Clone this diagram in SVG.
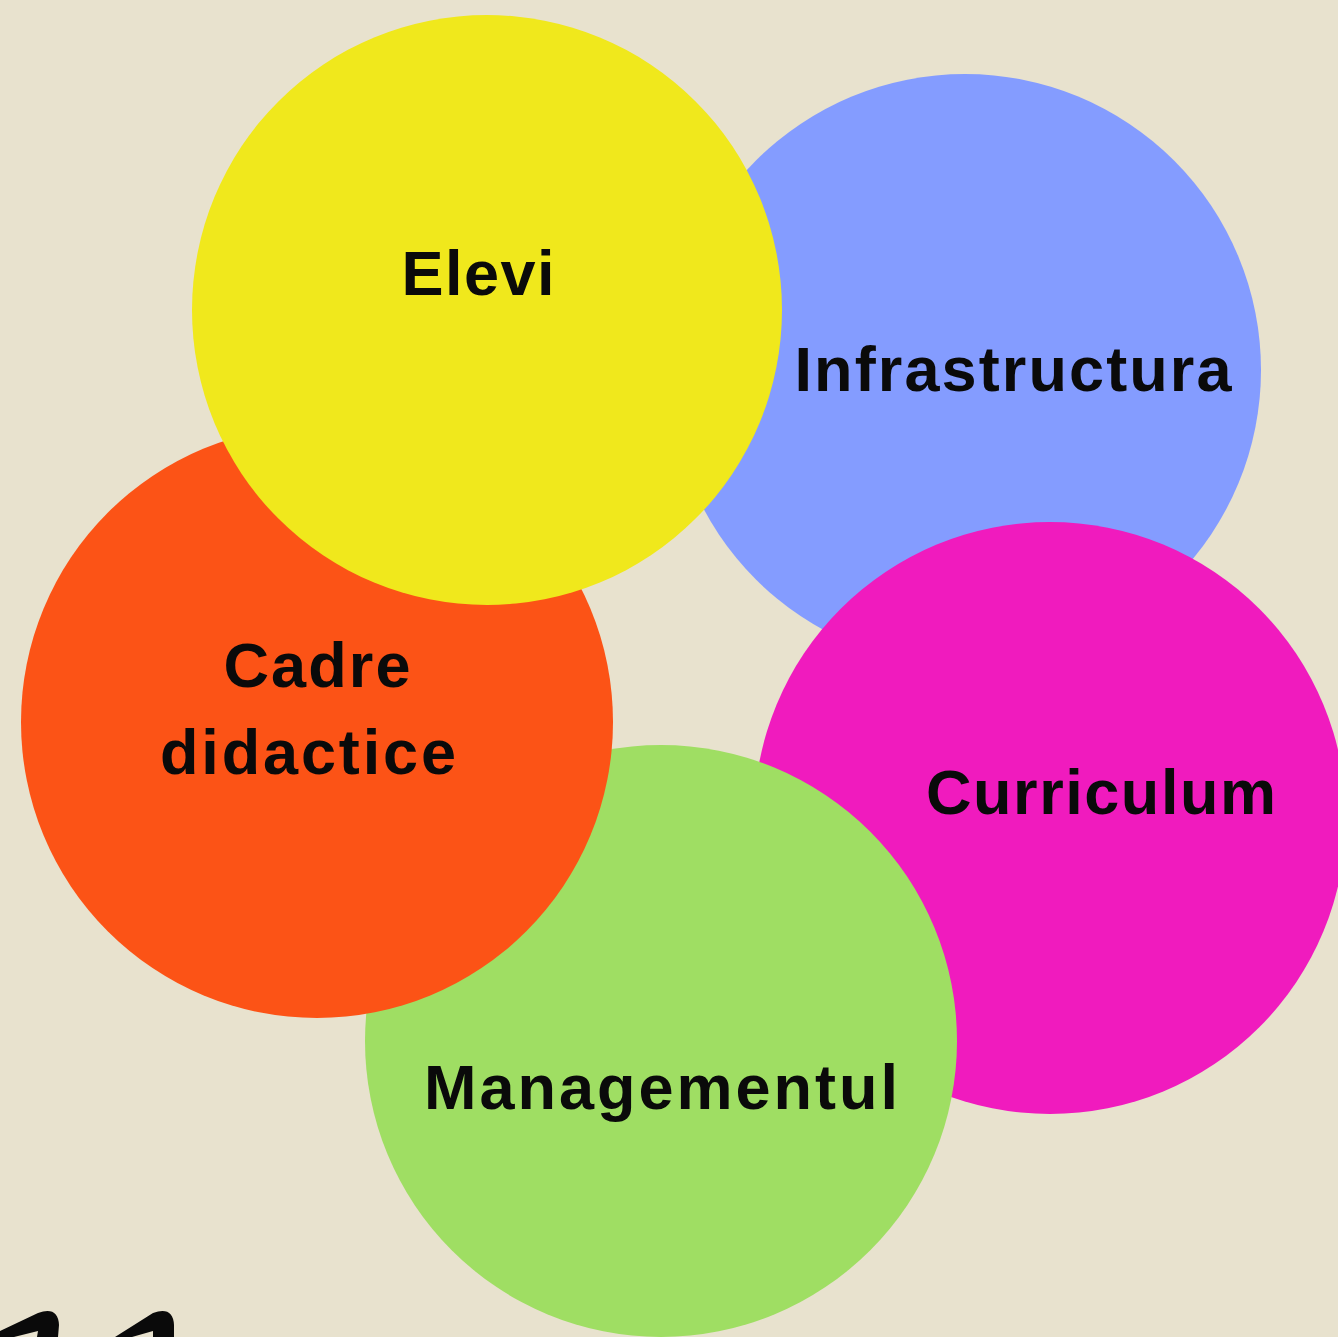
<svg xmlns="http://www.w3.org/2000/svg" width="1338" height="1337" viewBox="0 0 1338 1337">
<style>
.lbl{font-family:"Liberation Sans",Arial,sans-serif;font-weight:bold;font-size:63px;fill:#0a0a0a;text-anchor:middle}
</style>
<rect width="1338" height="1337" fill="#E8E2CE"/>
<g id="infrastructura">
<circle cx="965" cy="370" r="296" fill="#849CFF"/>
<text class="lbl" x="1013" y="391" textLength="437" lengthAdjust="spacing">Infrastructura</text>
</g>
<g id="curriculum">
<circle cx="1050" cy="818" r="296" fill="#F01BBE"/>
<text class="lbl" x="1101" y="814" textLength="350" lengthAdjust="spacing">Curriculum</text>
</g>
<g id="managementul">
<circle cx="661" cy="1041" r="296" fill="#9FDE63"/>
<text class="lbl" x="661" y="1109" textLength="474" lengthAdjust="spacing">Managementul</text>
</g>
<g id="cadre">
<circle cx="317" cy="722" r="296" fill="#FC5316"/>
<text class="lbl" x="317" y="687" textLength="187" lengthAdjust="spacing">Cadre</text>
<text class="lbl" x="308" y="774" textLength="296" lengthAdjust="spacing">didactice</text>
</g>
<g id="elevi">
<circle cx="487" cy="310" r="295" fill="#F0E81C"/>
<text class="lbl" x="478" y="295" textLength="153" lengthAdjust="spacing">Elevi</text>
</g>
<g id="marks" fill="#0a0a0a">
<path d="M0,1331 L38,1313 Q58,1306 59,1325 L58,1337 L37,1337 L38,1331 L14,1337 L0,1337 Z"/>
<path d="M115,1337 L153,1313 Q173,1306 174,1325 L174,1337 L153,1337 L153,1331 L132,1337 Z"/>
</g>
</svg>
